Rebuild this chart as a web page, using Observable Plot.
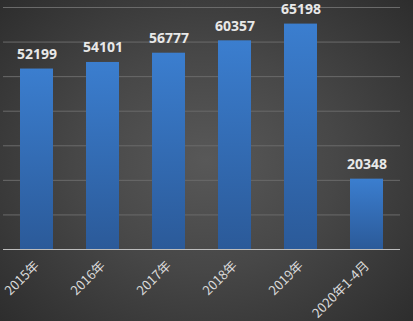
<!DOCTYPE html>
<html>
<head>
<meta charset="utf-8">
<script src="https://cdn.jsdelivr.net/npm/d3@7"></script>
<script src="https://cdn.jsdelivr.net/npm/@observablehq/plot@0.6"></script>
<style>
  html, body { margin: 0; padding: 0; }
  body { width: 413px; height: 321px; overflow: hidden;
    background: radial-gradient(ellipse 70% 75% at 50% 50%, #585858 0%, #474747 45%, #2c2c2c 100%); }
  #chart svg { display: block; background: transparent; overflow: visible; }
</style>
</head>
<body>
<div id="chart"></div>
<script>
const categories = ["2015年", "2016年", "2017年", "2018年", "2019年", "2020年1-4月"];
const values = [52199, 54101, 56777, 60357, 65198, 20348];
const gridTicks = [10000, 20000, 30000, 40000, 50000, 60000, 70000];

const data = categories.map((c, i) => ({category: c, value: values[i]}));

const defs = () => {
  const d = d3.create("svg:defs");
  const g = d.append("linearGradient").attr("id", "barGrad")
    .attr("x1", 0).attr("y1", 0).attr("x2", 0).attr("y2", 1);
  g.append("stop").attr("offset", "0%").attr("stop-color", "#3b7ecf");
  g.append("stop").attr("offset", "100%").attr("stop-color", "#2b5a99");
  return d.node();
};

const chart = Plot.plot({
  width: 413,
  height: 321,
  marginTop: 7,
  marginBottom: 72,
  marginLeft: 3,
  marginRight: 13,
  style: {background: "transparent", color: "#d9d9d9"},
  x: {domain: categories, paddingInner: 0.5, paddingOuter: 0.25, label: null},
  y: {domain: [0, 70000], axis: null},
  marks: [
    defs,
    Plot.ruleY(gridTicks, {stroke: "#6a6a6a", strokeWidth: 1}),
    Plot.barY(data, {x: "category", y: "value", fill: "url(#barGrad)"}),
    Plot.ruleY([0], {stroke: "#bdbdbd", strokeWidth: 1.2}),
    Plot.text(data, {x: "category", y: "value", text: d => String(d.value),
      dy: -10, lineAnchor: "bottom", fill: "#e8e8e8", fontSize: 14, fontWeight: "bold",
      fontFamily: "Open Sans, DejaVu Sans, sans-serif"}),
    Plot.axisX({tickSize: 0, tickPadding: 14, tickRotate: -45, fontSize: 13,
      fill: "#d9d9d9", fontFamily: "Noto Sans CJK SC, sans-serif", label: null})
  ]
});
document.getElementById("chart").append(chart);
</script>
</body>
</html>
